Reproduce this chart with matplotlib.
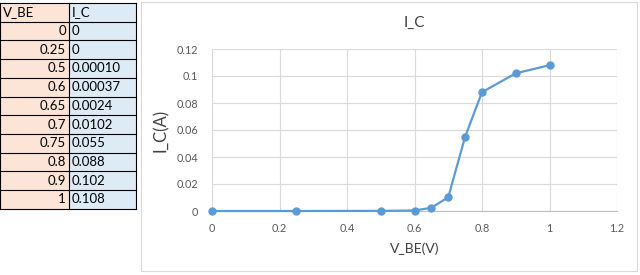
import matplotlib

matplotlib.use("Agg")
import matplotlib.pyplot as plt
from matplotlib.patches import Rectangle

plt.rcParams["font.family"] = ["Lato", "DejaVu Sans"]

# Dados da planilha
v_be = [0, 0.25, 0.5, 0.6, 0.65, 0.7, 0.75, 0.8, 0.9, 1]
i_c = [0, 0, 0.0001, 0.00037, 0.0024, 0.0102, 0.055, 0.088, 0.102, 0.108]
v_be_text = ["0", "0.25", "0.5", "0.6", "0.65", "0.7", "0.75", "0.8", "0.9", "1"]
i_c_text = ["0", "0", "0.00010", "0.00037", "0.0024", "0.0102", "0.055", "0.088", "0.102", "0.108"]
x_ticks = [0, 0.2, 0.4, 0.6, 0.8, 1, 1.2]
y_ticks = [0, 0.02, 0.04, 0.06, 0.08, 0.1, 0.12]

W, H = 640, 275
fig = plt.figure(figsize=(W / 100, H / 100), dpi=100)

# camada em pixels para a tabela e moldura do grafico
bg = fig.add_axes([0, 0, 1, 1])
bg.set_xlim(0, W)
bg.set_ylim(H, 0)
bg.axis("off")

# Tabela
col_x = [0, 69, 136]
row_h = 18.7
top = 3
n_rows = len(v_be_text) + 1
for r in range(n_rows):
    y0 = top + r * row_h
    bg.add_patch(Rectangle((col_x[0], y0), col_x[1] - col_x[0], row_h,
                           facecolor="#FCE4D6", edgecolor="none"))
    bg.add_patch(Rectangle((col_x[1], y0), col_x[2] - col_x[1], row_h,
                           facecolor="#DDEBF7", edgecolor="none"))
for r in range(n_rows + 1):
    y0 = top + r * row_h
    bg.plot([col_x[0], col_x[2]], [y0, y0], color="black", lw=0.8)
for x in col_x:
    bg.plot([x, x], [top, top + n_rows * row_h], color="black", lw=0.8)

fs_tab = 9.5
bg.text(3, top + row_h / 2, "V_BE", ha="left", va="center", fontsize=fs_tab)
bg.text(72, top + row_h / 2, "I_C", ha="left", va="center", fontsize=fs_tab)
for i, (a, b) in enumerate(zip(v_be_text, i_c_text)):
    yc = top + (i + 1.5) * row_h
    bg.text(66, yc, a, ha="right", va="center", fontsize=fs_tab)
    bg.text(72, yc, b, ha="left", va="center", fontsize=fs_tab)

# Moldura do grafico
bg.add_patch(Rectangle((141, 1.5), 496, 269, facecolor="white",
                       edgecolor="#D9D9D9", lw=0.8))

# Grafico
ax = fig.add_axes([212 / W, 1 - 211 / H, (617 - 212) / W, (211 - 49) / H])
ax.plot(v_be, i_c, color="#5B9BD5", lw=1.6, marker="o", markersize=5,
        clip_on=False, zorder=3)
ax.set_xlim(0, 1.2)
ax.set_ylim(0, 0.12)
ax.set_xticks(x_ticks)
ax.set_xticklabels(["0", "0.2", "0.4", "0.6", "0.8", "1", "1.2"])
ax.set_yticks(y_ticks)
ax.set_yticklabels(["0", "0.02", "0.04", "0.06", "0.08", "0.1", "0.12"])
ax.grid(True, color="#D9D9D9", lw=0.8)
ax.set_axisbelow(True)
for s in ["top", "right", "left"]:
    ax.spines[s].set_visible(False)
ax.spines["bottom"].set_color("#BFBFBF")
ax.tick_params(length=0, labelsize=7.8, labelcolor="#595959")
ax.tick_params(axis="y", pad=10)
ax.tick_params(axis="x", pad=9)
ax.set_xlabel("V_BE(V)", fontsize=10, color="#404040", labelpad=6)
ax.set_ylabel("I_C(A)", fontsize=12, color="#404040", labelpad=5)
ax.set_title("I_C", fontsize=11, color="#404040", pad=16)

fig.savefig("out.png", dpi=100)
plt.close()
